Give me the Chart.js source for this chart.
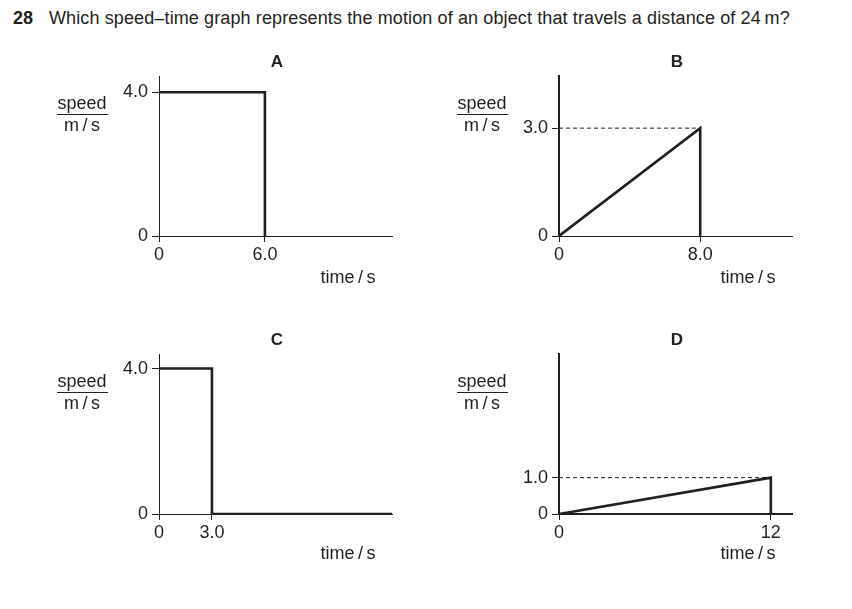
<!DOCTYPE html>
<html>
<head>
<meta charset="utf-8">
<script src="https://cdn.jsdelivr.net/npm/chart.js@4/dist/chart.umd.min.js"></script>
<style>
  body { margin: 0; background: #fff; }
  #page { position: relative; width: 852px; height: 609px; overflow: hidden; font-family: "Liberation Sans", Arial, sans-serif; color: #231f20; }
  canvas { position: absolute; }
  .txt { position: absolute; white-space: nowrap; line-height: 20px; }
  .q { font-size: 18px; top: 8px; }
  .num { left: 13px; font-weight: bold; }
  .letter { font-weight: bold; font-size: 17px; transform: translateX(-50%); }
  .lab { font-size: 18px; transform: translateX(-50%); }
  .bar { position: absolute; height: 1px; background: #231f20; }
</style>
</head>
<body>
<div id="page">
  <div class="txt q num">28</div>
  <div class="txt q" style="left:49px; letter-spacing:0.12px">Which speed–time graph represents the motion of an object that travels a distance of 24&#8201;m?</div>

  <canvas id="chartA"></canvas>
  <canvas id="chartB"></canvas>
  <canvas id="chartC"></canvas>
  <canvas id="chartD"></canvas>
</div>

<script>
// -----------------------------
// Data
// -----------------------------
const timesA = [0, 6.0, 6.0];
const speedsA = [4.0, 4.0, 0];
const timesB = [0, 8.0, 8.0];
const speedsB = [0, 3.0, 0];
const timesC = [0, 3.0, 3.0, 13.2];
const speedsC = [4.0, 4.0, 0, 0];
const timesD = [0, 12, 12];
const speedsD = [0, 1.0, 0];

// dashed guide lines (y axis -> peak)
const guideB = { times: [0, 8.0], speeds: [3.0, 3.0] };
const guideD = { times: [0, 12], speeds: [1.0, 1.0] };

// tick values + labels
const xTicksA = [0, 6.0], xLabelsA = ['0', '6.0'];
const yTicksA = [0, 4.0], yLabelsA = ['0', '4.0'];
const xTicksB = [0, 8.0], xLabelsB = ['0', '8.0'];
const yTicksB = [0, 3.0], yLabelsB = ['0', '3.0'];
const xTicksC = [0, 3.0], xLabelsC = ['0', '3.0'];
const yTicksC = [0, 4.0], yLabelsC = ['0', '4.0'];
const xTicksD = [0, 12], xLabelsD = ['0', '12'];
const yTicksD = [0, 1.0], yLabelsD = ['0', '1.0'];

const panelLetters = ['A', 'B', 'C', 'D'];
const yTitleTop = 'speed', yTitleBottom = 'm\u2009/\u2009s', xTitle = 'time\u2009/\u2009s';

// -----------------------------
// Layout helpers
// -----------------------------
const INK = '#231f20';
const FONT = '"Liberation Sans", Arial, sans-serif';
const page = document.getElementById('page');

function addText(cls, text, left, top) {
    const d = document.createElement('div');
    d.className = 'txt ' + cls;
    d.textContent = text;
    d.style.left = left + 'px';
    d.style.top = top + 'px';
    page.appendChild(d);
}

function toPoints(xs, ys) {
    return xs.map((x, i) => ({ x: x, y: ys[i] }));
}

function makeAxis(min, max, ticks, labels, tickLength, borderWidth, fixedSize, isX) {
    return {
        type: 'linear',
        min: min,
        max: max,
        afterBuildTicks: s => { s.ticks = ticks.map(v => ({ value: v })); },
        afterFit: s => { if (isX) s.height = fixedSize; else s.width = fixedSize; },
        grid: {
            display: true,
            drawOnChartArea: false,
            drawTicks: true,
            tickLength: tickLength,
            tickColor: INK,
            tickWidth: 1
        },
        border: { display: true, color: INK, width: borderWidth },
        ticks: {
            autoSkip: false,
            maxRotation: 0,
            padding: isX ? 2 : 4,
            color: INK,
            font: { family: FONT, size: 18 },
            callback: (v, i) => labels[i]
        }
    };
}

// box = canvas position, area = wanted chart area (page px)
function makePanel(id, box, area, cfg) {
    const canvas = document.getElementById(id);
    canvas.width = box.w;
    canvas.height = box.h;
    canvas.style.left = box.x + 'px';
    canvas.style.top = box.y + 'px';

    const yW = 50, xH = 40;

    const datasets = [{
        data: toPoints(cfg.times, cfg.speeds),
        borderColor: INK,
        borderWidth: 2.6,
        borderJoinStyle: 'miter',
        borderCapStyle: 'butt',
        pointRadius: 0,
        showLine: true,
        tension: 0
    }];
    if (cfg.guide) {
        datasets.push({
            data: toPoints(cfg.guide.times, cfg.guide.speeds),
            borderColor: INK,
            borderWidth: 1,
            borderDash: [4, 3],
            pointRadius: 0,
            showLine: true
        });
    }

    return new Chart(canvas.getContext('2d'), {
        type: 'scatter',
        data: { datasets: datasets },
        options: {
            responsive: false,
            animation: false,
            events: [],
            layout: {
                padding: {
                    left: area.left - box.x - yW,
                    top: area.top - box.y,
                    right: box.x + box.w - area.right,
                    bottom: box.y + box.h - area.bottom - xH
                }
            },
            plugins: { legend: { display: false }, tooltip: { enabled: false } },
            scales: {
                x: makeAxis(0, cfg.xMax, cfg.xTicks, cfg.xLabels, 6, cfg.xBorder, xH, true),
                y: makeAxis(0, cfg.yMax, cfg.yTicks, cfg.yLabels, 7, cfg.yBorder, yW, false)
            }
        }
    });
}

// -----------------------------
// Panels
// -----------------------------
const panels = [
    { id: 'chartA', dx: 0,   dy: 0,   times: timesA, speeds: speedsA, xTicks: xTicksA, xLabels: xLabelsA, yTicks: yTicksA, yLabels: yLabelsA, xBorder: 1, yBorder: 1, yMax: 4.45 },
    { id: 'chartB', dx: 400, dy: 0,   times: timesB, speeds: speedsB, xTicks: xTicksB, xLabels: xLabelsB, yTicks: yTicksB, yLabels: yLabelsB, xBorder: 1, yBorder: 2, yMax: 4.45, guide: guideB },
    { id: 'chartC', dx: 0,   dy: 278, times: timesC, speeds: speedsC, xTicks: xTicksC, xLabels: xLabelsC, yTicks: yTicksC, yLabels: yLabelsC, xBorder: 1, yBorder: 1, yMax: 4.4 },
    { id: 'chartD', dx: 400, dy: 278, times: timesD, speeds: speedsD, xTicks: xTicksD, xLabels: xLabelsD, yTicks: yTicksD, yLabels: yLabelsD, xBorder: 2, yBorder: 2, yMax: 4.4, guide: guideD }
];

panels.forEach((p, i) => {
    p.xMax = 13.2;
    const box = { x: p.dx, y: 40 + p.dy, w: 430, h: 260 };
    const area = { left: 159 + p.dx, right: 392 + p.dx, top: 76 + p.dy, bottom: 236 + p.dy };
    makePanel(p.id, box, area, p);

    addText('letter', panelLetters[i], 277 + p.dx, 52 + p.dy);
    addText('lab', yTitleTop, 82 + p.dx, 93 + p.dy);
    addText('lab', yTitleBottom, 82 + p.dx, 115 + p.dy);
    const bar = document.createElement('div');
    bar.className = 'bar';
    bar.style.left = (57 + p.dx) + 'px';
    bar.style.width = '51px';
    bar.style.top = (114 + p.dy) + 'px';
    page.appendChild(bar);
    addText('lab', xTitle, 348 + p.dx, 267 + p.dy - (p.dy ? 2 : 0));
});
</script>
</body>
</html>
